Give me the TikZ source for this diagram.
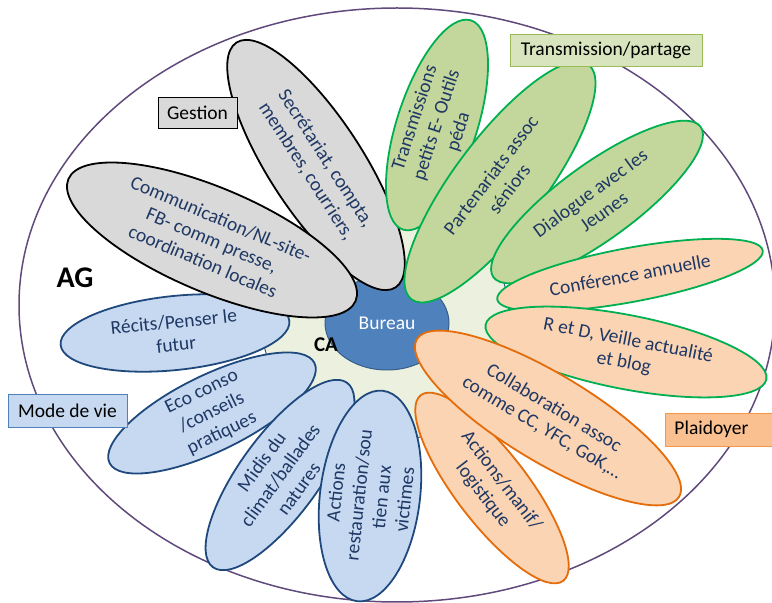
\documentclass[tikz,border=0pt]{standalone}
\usepackage{fontspec}
\setmainfont{Carlito}
\usetikzlibrary{shapes.geometric}
\definecolor{grayfill}{HTML}{D9D9D9}
\definecolor{greenfill}{HTML}{C3D69B}
\definecolor{greenline}{HTML}{00B050}
\definecolor{orangefill}{HTML}{FBD4B4}
\definecolor{orangeline}{HTML}{E46C0A}
\definecolor{bluefill}{HTML}{C6D9F1}
\definecolor{blueline}{HTML}{1F497D}
\definecolor{bureaufill}{HTML}{4F81BD}
\definecolor{bureauline}{HTML}{385D8A}
\definecolor{cafill}{HTML}{EBF1DE}
\definecolor{outerline}{HTML}{604A7B}
\definecolor{petaltext}{HTML}{1F3864}
\definecolor{lblgray}{HTML}{D9D9D9}
\definecolor{lblgreen}{HTML}{D7E4BD}
\definecolor{lblgreenline}{HTML}{9BBB59}
\definecolor{lblblue}{HTML}{C6D9F1}
\definecolor{lblblueline}{HTML}{4F81BD}
\definecolor{lblorange}{HTML}{FAC090}
\definecolor{lblorangeline}{HTML}{F79646}
\tikzset{
  petal/.style={ellipse, draw, line width=1.8pt, inner sep=0pt},
  graypetal/.style={petal, fill=grayfill, draw=black},
  greenpetal/.style={petal, fill=greenfill, draw=greenline},
  orangepetal/.style={petal, fill=orangefill, draw=orangeline},
  orgreenpetal/.style={petal, fill=orangefill, draw=greenline},
  bluepetal/.style={petal, fill=bluefill, draw=blueline},
  ptext/.style={text=petaltext, align=center, font=\fontsize{19.5}{23}\selectfont, inner sep=0pt},
  lbl/.style={draw, line width=0.9pt, font=\fontsize{19.5}{23}\selectfont, inner sep=0pt}
}
\begin{document}
\begin{tikzpicture}[x=1pt,y=1pt]
\useasboundingbox (0,0) rectangle (772,603);
\clip (0,0) rectangle (772,603);
% outer AG ellipse
\node[ellipse, draw=outerline, line width=1.5pt, minimum width=756, minimum height=594, inner sep=0pt] (ag) at (397,298) {};
% CA circle
\node[circle, fill=cafill, draw=bureauline, line width=1pt, minimum size=248, inner sep=0pt] (ca) at (385,285) {};
% Bureau
\node[ellipse, fill=bureaufill, draw=bureauline, line width=1pt, minimum width=124, minimum height=94, inner sep=0pt, text=white, font=\fontsize{19.5}{23}\selectfont] (bureau) at (387,280) {Bureau};
% blue petals
\node[bluepetal, minimum width=230, minimum height=74, rotate=6] (recits) at (175,270) {};
\node[bluepetal, minimum width=228, minimum height=76, rotate=26] (eco) at (212,190) {};
\node[bluepetal, minimum width=228, minimum height=80, rotate=54] (midis) at (280,128) {};
\node[bluepetal, minimum width=212, minimum height=100, rotate=83] (restau) at (370,107) {};
% gray petals
\node[graypetal, minimum width=292, minimum height=94, rotate=-57] (secr) at (316,438) {};
\node[graypetal, minimum width=312, minimum height=104, rotate=-23] (comm) at (212,363) {};
% green petals
\node[greenpetal, minimum width=220, minimum height=80, rotate=72] (transm) at (437,478) {};
\node[greenpetal, minimum width=294, minimum height=90, rotate=53] (parten) at (500,421) {};
\node[greenpetal, minimum width=256, minimum height=76, rotate=36] (dialog) at (597,401) {};
% orange petals
\node[orgreenpetal, minimum width=270, minimum height=54, rotate=10.5] (conf) at (630,328) {};
\node[orgreenpetal, minimum width=286, minimum height=74, rotate=-11] (retd) at (626,251) {};
\node[orangepetal, minimum width=234, minimum height=72, rotate=-52.5] (manif) at (492,115) {};
\node[orangepetal, minimum width=306, minimum height=88, rotate=-31] (collab) at (548,185) {};
% petal texts
\node[ptext, rotate=-57] (secrt) at (secr) {Secrétariat, compta,\\membres, courriers,};
\node[ptext, rotate=-23] (commt) at (comm) {Communication/NL-site-\\FB- comm presse,\\coordination locales};
\node[ptext, rotate=6] (recitst) at (recits) {Récits/Penser le\\futur};
\node[ptext, rotate=26] (ecot) at (eco) {Eco conso\\/conseils\\pratiques};
\node[ptext, rotate=54] (midist) at (midis) {Midis du\\climat/ballades\\natures};
\node[ptext, rotate=84] (restaut) at (restau) {Actions\\restauration/sou\\tien aux\\victimes};
\node[ptext, rotate=-52.5] (manift) at (manif) {Actions/manif/\\logistique};
\node[ptext, rotate=-31] (collabt) at (collab) {Collaboration assoc\\comme CC, YFC, GoK,…};
\node[ptext, rotate=-11] (retdt) at (retd) {R et D, Veille actualité\\et blog};
\node[ptext, rotate=10.5] (conft) at (conf) {Conférence annuelle};
\node[ptext, rotate=36] (dialogt) at (dialog) {Dialogue avec les\\Jeunes};
\node[ptext, rotate=53] (partent) at (parten) {Partenariats assoc\\séniors};
\node[ptext, rotate=72] (transmt) at (transm) {Transmissions\\petits E- Outils\\péda};
% labels
\node[font=\bfseries\fontsize{21}{24}\selectfont, inner sep=0pt] (catext) at (326,258) {CA};
\node[font=\bfseries\fontsize{30}{34}\selectfont, inner sep=0pt] (agt) at (75,325) {AG};
\node[lbl, fill=lblgray, draw=black, minimum width=79, minimum height=31] (gestion) at (197.5,490.5) {Gestion};
\node[lbl, fill=lblgreen, draw=lblgreenline, minimum width=192, minimum height=32] (transmission) at (606,553) {Transmission/partage};
\node[lbl, fill=lblblue, draw=lblblueline, minimum width=119, minimum height=33] (mode) at (67.5,192.5) {Mode de vie};
\node[lbl, fill=lblorange, draw=lblorangeline, anchor=west, minimum height=33, inner xsep=9pt, text width=110, align=left] (plaid) at (665,173.5) {Plaidoyer};
\end{tikzpicture}
\end{document}
